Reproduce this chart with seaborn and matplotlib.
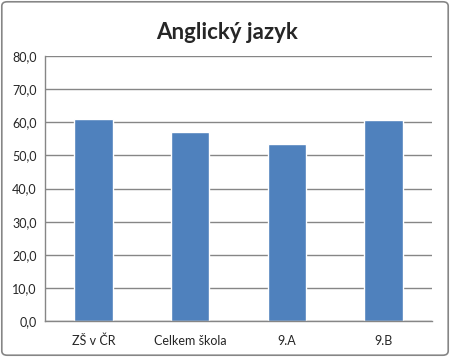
import numpy as np
import pandas as pd
import matplotlib
matplotlib.use('Agg')
import matplotlib.pyplot as plt
import matplotlib.patches as patches
import seaborn as sns

categories = ['ZŠ v ČR', 'Celkem škola', '9.A', '9.B']
values = [61.0, 57.1, 53.4, 60.7]
yticks = [0, 10, 20, 30, 40, 50, 60, 70, 80]

df = pd.DataFrame({'group': categories, 'score': values})

sns.set_style('white')
plt.rcParams['font.family'] = ['Lato', 'DejaVu Sans']

fig = plt.figure(figsize=(4.5, 3.57), dpi=100)
ax = fig.add_axes([0.1, 0.1008, 0.86, 0.742])

sns.barplot(data=df, x='group', y='score', order=categories, color='#4F81BD',
            width=0.4, saturation=1, ax=ax)

ax.set_ylim(0, 80)
ax.set_xlim(-0.5, 3.5)
ax.set_yticks(yticks)
ax.set_yticklabels([f'{v:.1f}'.replace('.', ',') for v in yticks], fontsize=9)
ax.tick_params(axis='x', labelsize=9, length=0, pad=10)
ax.tick_params(axis='y', length=0, pad=6)
ax.yaxis.grid(True, color='#868686', linewidth=1)
ax.set_axisbelow(True)
for s in ['top', 'right']:
    ax.spines[s].set_visible(False)
for s in ['left', 'bottom']:
    ax.spines[s].set_color('#868686')
    ax.spines[s].set_linewidth(1)
ax.set_xlabel('')
ax.set_ylabel('')

fig.text(0.505, 0.908, 'Anglický jazyk', ha='center', va='center',
         fontsize=16, fontweight='bold')

border = patches.FancyBboxPatch((0.004, 0.005), 0.992, 0.99,
                                boxstyle='round,pad=0,rounding_size=0.012',
                                transform=fig.transFigure, fill=False,
                                edgecolor='#868686', linewidth=1.2)
fig.patches.append(border)

fig.savefig('out.png', dpi=100)
